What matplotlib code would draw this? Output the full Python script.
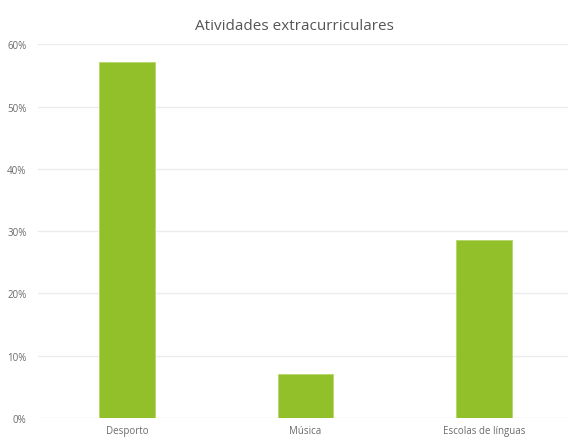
import matplotlib.pyplot as plt
from matplotlib.ticker import PercentFormatter

actividades = ["Desporto", "Música", "Escolas de línguas"]
percentagens = [57.14, 7.14, 28.57]
ticks_y = [0, 10, 20, 30, 40, 50, 60]

plt.rcParams['font.family'] = ['Open Sans', 'DejaVu Sans']

fig = plt.figure(figsize=(5.68, 4.39), dpi=100)
ax = fig.add_axes([0.0664, 0.0456, 0.9336, 0.8512])

ax.bar(range(len(actividades)), percentagens, width=0.313, color="#92c02a",
       edgecolor="#b5d66a", linewidth=0.6, zorder=3)

ax.set_ylim(0, 60)
ax.set_xlim(-0.5, 2.47)
ax.set_yticks(ticks_y)
ax.yaxis.set_major_formatter(PercentFormatter(decimals=0))
ax.set_xticks(range(len(actividades)))
ax.set_xticklabels(actividades)

ax.grid(axis="y", color="#ececec", linewidth=1, zorder=0)
for s in ax.spines.values():
    s.set_visible(False)
ax.tick_params(axis="both", length=0, labelsize=7, colors="#6b6b6b")
ax.tick_params(axis="y", pad=8)
ax.tick_params(axis="x", pad=5)

fig.text(0.518, 0.94, "Atividades extracurriculares", ha="center", va="center",
         fontsize=11, color="#555555")

fig.savefig("out.png", dpi=100)
